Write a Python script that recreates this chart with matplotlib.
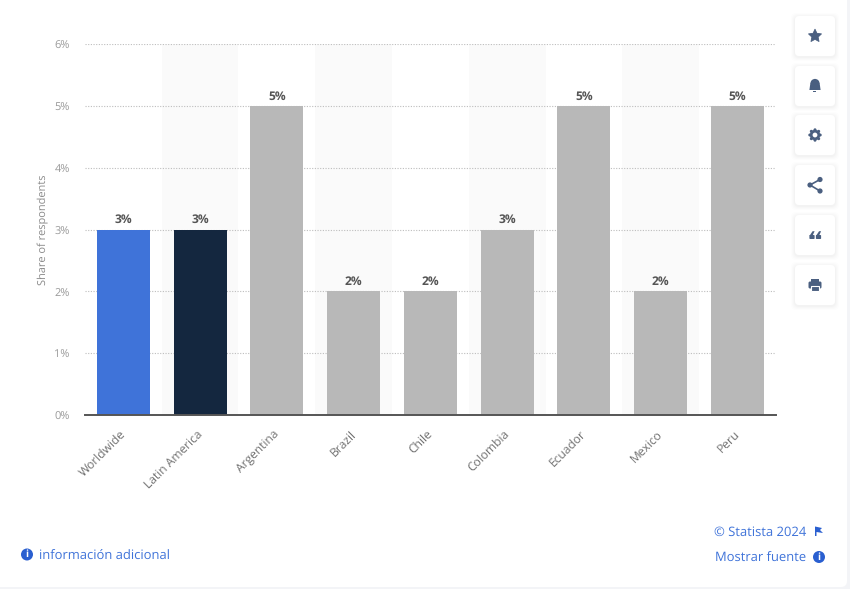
import math
import matplotlib
matplotlib.use("Agg")
import matplotlib.pyplot as plt
from matplotlib.patches import FancyBboxPatch, Circle, Rectangle, Polygon, Wedge
from matplotlib.transforms import ScaledTranslation

plt.rcParams['font.family'] = ['Open Sans', 'DejaVu Sans']
plt.rcParams['text.hinting'] = 'no_hinting'
plt.rcParams['text.hinting_factor'] = 1

categories = ['Worldwide', 'Latin America', 'Argentina', 'Brazil', 'Chile',
              'Colombia', 'Ecuador', 'Mexico', 'Peru']
values = [3, 3, 5, 2, 2, 3, 5, 2, 5]
value_labels = ['3%', '3%', '5%', '2%', '2%', '3%', '5%', '2%', '5%']
y_ticks = [0, 1, 2, 3, 4, 5, 6]
y_tick_labels = ['0%', '1%', '2%', '3%', '4%', '5%', '6%']
y_title = 'Share of respondents'
bar_colors = ['#3f73d9', '#14273f'] + ['#b8b8b8'] * 7

W, H = 850, 589
fig = plt.figure(figsize=(W / 100, H / 100), dpi=100, facecolor='#f3f4f7')

# Page overlay in pixel coordinates, behind the chart
bg = fig.add_axes([0, 0, 1, 1], zorder=0)
bg.set_xlim(0, W)
bg.set_ylim(H, 0)
bg.axis('off')
bg.add_patch(FancyBboxPatch((-20, -20), 867, 607, boxstyle='round,pad=0,rounding_size=6',
                            fc='white', ec='none'))

# Chart
L, R, T, B = 84.9, 775.9, 44, 415
ax = fig.add_axes([L / W, 1 - B / H, (R - L) / W, (B - T) / H], zorder=1)
ax.patch.set_alpha(0)
x = list(range(len(categories)))
for i in x:
    if i % 2 == 1:
        ax.axvspan(i - 0.5, i + 0.5, color='#fafafa', lw=0, zorder=0)
ax.set_xlim(-0.5, len(categories) - 0.5)
ax.set_ylim(0, 6)
ax.set_axisbelow(True)
ax.yaxis.grid(True, color='#bdbdbd', lw=0.8, ls=(0, (1, 1.4)))
ax.bar(x, values, width=0.69, color=bar_colors, zorder=2)
for i, v, s in zip(x, values, value_labels):
    ax.annotate(s, (i, v), xytext=(0, 2.5), textcoords='offset points', ha='center', va='bottom',
                fontsize=8.3, fontweight='bold', color='#555555', zorder=3)
for s in ['top', 'left', 'right']:
    ax.spines[s].set_visible(False)
ax.spines['bottom'].set_color('#555555')
ax.spines['bottom'].set_linewidth(1.4)
ax.spines['bottom'].set_zorder(4)
ax.set_yticks(y_ticks, y_tick_labels, fontsize=8, color='#9a9a9a')
ax.tick_params(axis='y', length=0, pad=10.9)
yshift = ScaledTranslation(0, -1 / 100, fig.dpi_scale_trans)
for lab in ax.get_yticklabels():
    lab.set_transform(lab.get_transform() + yshift)
ax.set_xticks(x, categories, fontsize=8.8, color='#6e6e6e', rotation=45, ha='right',
              rotation_mode='anchor')
ax.tick_params(axis='x', length=0, pad=9.5)
shift = ScaledTranslation(-3.8 / 100, 0, fig.dpi_scale_trans)
for lab in ax.get_xticklabels():
    lab.set_transform(lab.get_transform() + shift)
ax.set_ylabel(y_title, fontsize=8, color='#8a8a8a', labelpad=0)
ax.yaxis.set_label_coords((49 - L) / (R - L), 0.5 + (415 - 230 - (B - T) / 2) / (B - T))

# Foreground overlay: footer links and side buttons
fg = fig.add_axes([0, 0, 1, 1], zorder=2)
fg.set_xlim(0, W)
fg.set_ylim(H, 0)
fg.axis('off')
blue = '#3f73d9'
iblue = '#2a5fd0'
ink = '#4a5f80'


def info(cx, cy):
    fg.add_patch(Circle((cx, cy), 6, fc=iblue, ec='none'))
    fg.text(cx, cy + 0.2, 'i', color='white', fontsize=7, fontweight='bold',
            ha='center', va='center')


info(27, 554.5)
fg.text(39, 556.5, 'información adicional', fontsize=9.3, color=blue, va='center', ha='left')
fg.text(806, 532, '© Statista 2024', fontsize=9.3, color=blue, va='center', ha='right')
fg.text(806, 558.5, 'Mostrar fuente', fontsize=9.3, color=blue, va='center', ha='right')
info(819, 557)
fg.add_patch(Polygon([(815, 526.5), (822, 528), (820, 530), (823, 533), (816.5, 532),
                      (816.5, 536), (815, 536)], fc=iblue, ec='none'))

# Side buttons
centers = [36, 86, 135, 185, 235, 285]
for cy in centers:
    for off, a in ((4, 0.008), (3, 0.010), (2, 0.012), (1, 0.015)):
        fg.add_patch(FancyBboxPatch((795 - off, cy - 20 - off + 1), 40 + 2 * off, 40 + 2 * off,
                                    boxstyle='round,pad=0,rounding_size=5', fc='black',
                                    alpha=a, ec='none'))
    fg.add_patch(FancyBboxPatch((795, cy - 20), 40, 40, boxstyle='round,pad=0,rounding_size=4',
                                fc='white', ec='none'))
cx = 815
# star
star = []
for k in range(10):
    r = 6.8 if k % 2 == 0 else 3.3
    t = math.radians(-90 + 36 * k)
    star.append((cx + r * math.cos(t), 36 + r * math.sin(t)))
fg.add_patch(Polygon(star, fc=ink, ec=ink, lw=0.6, joinstyle='round'))
# bell
fg.add_patch(Wedge((cx, 83.5), 4.6, 180, 360, fc=ink, ec='none'))
fg.add_patch(Polygon([(810.4, 83), (819.6, 83), (820.6, 90), (809.4, 90)], fc=ink, ec='none'))
fg.add_patch(Rectangle((813.5, 91), 3, 1.4, fc=ink, ec='none'))
# gear
for k in range(8):
    t = math.radians(45 * k)
    fg.add_patch(Circle((cx + 5.2 * math.cos(t), 135 + 5.2 * math.sin(t)), 1.5, fc=ink, ec='none'))
fg.add_patch(Circle((cx, 135), 5.2, fc=ink, ec='none'))
fg.add_patch(Circle((cx, 135), 2.4, fc='white', ec='none'))
# share
pts = [(820, 179.5), (810, 185), (820, 191)]
fg.plot([p[0] for p in pts], [p[1] for p in pts], color=ink, lw=1.2, zorder=1)
for p in pts:
    fg.add_patch(Circle(p, 2.6, fc=ink, ec='none'))
# quote
for qx in (812, 818.5):
    fg.add_patch(FancyBboxPatch((qx - 2.6, 235), 5.2, 4, boxstyle='round,pad=0,rounding_size=0.8',
                                fc=ink, ec='none'))
    fg.add_patch(Polygon([(qx - 2.6, 236), (qx + 0.6, 231.2), (qx + 2.6, 231.2), (qx + 0.4, 236)],
                         fc=ink, ec='none'))
# print
fg.add_patch(FancyBboxPatch((808.5, 281.5), 13, 7, boxstyle='round,pad=0,rounding_size=1.5',
                            fc=ink, ec='none'))
fg.add_patch(Rectangle((811, 279), 8, 4, fc=ink, ec='none'))
fg.add_patch(Rectangle((811, 286), 8, 5, fc=ink, ec='white', lw=0.8))

fig.savefig('out.png', dpi=100, facecolor=fig.get_facecolor())
